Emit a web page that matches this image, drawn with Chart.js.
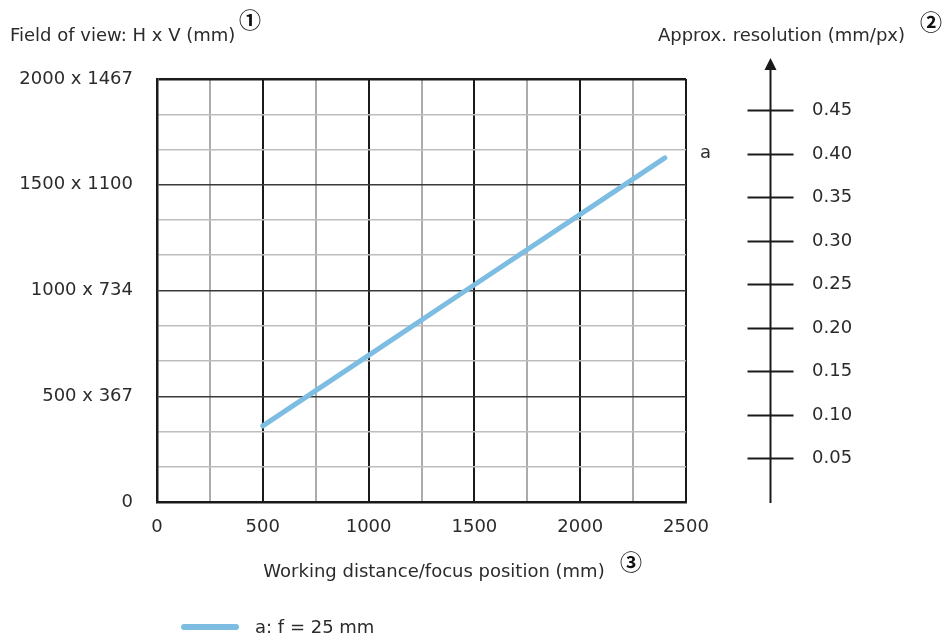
<!DOCTYPE html>
<html>
<head>
<meta charset="utf-8">
<script src="https://cdn.jsdelivr.net/npm/chart.js@4.4.1/dist/chart.umd.min.js"></script>
<style>
  body { margin: 0; background: #fff; }
  canvas { display: block; }
</style>
</head>
<body>
<canvas id="fovChart" width="946" height="637"></canvas>
<script>
// values
var distances = [500, 1000, 1500, 2000, 2400];
var fieldH = [360, 693, 1027, 1360, 1627];
var fovLabels = ['0', '500 x 367', '1000 x 734', '1500 x 1100', '2000 x 1467'];
var resTicks = [0.05, 0.10, 0.15, 0.20, 0.25, 0.30, 0.35, 0.40, 0.45];
var seriesName = 'a: f = 25 mm';
var seriesTag = 'a';

var FONT = '"DejaVu Sans", sans-serif';
var FS = 18;
var TXT = '#2b2b2b';
var LINE = '#7dbde2';

var extras = {
    id: 'extras',
    afterDraw: function(chart) {
        var ctx = chart.ctx;
        var area = chart.chartArea;
        var y2 = chart.scales.y2;
        ctx.save();
        ctx.fillStyle = TXT;
        ctx.font = FS + 'px ' + FONT;
        ctx.textBaseline = 'middle';

        // titles
        ctx.textAlign = 'left';
        ctx.fillText('Field of view: H x V (mm)', 10, 36);
        ctx.textAlign = 'right';
        ctx.fillText('Approx. resolution (mm/px)', 905, 36);
        ctx.textAlign = 'center';
        ctx.fillText('Working distance/focus position (mm)', 434, 572);

        ctx.fillStyle = '#111';
        ctx.font = 'bold 22px "Noto Sans CJK JP", "DejaVu Sans", sans-serif';
        ctx.fillText('\u2460', 250, 20);
        ctx.fillText('\u2461', 931, 22);
        ctx.fillText('\u2462', 631, 562);

        // series tag at the line end
        var meta = chart.getDatasetMeta(0);
        var last = meta.data[meta.data.length - 1];
        ctx.fillStyle = TXT;
        ctx.font = FS + 'px ' + FONT;
        ctx.textAlign = 'left';
        ctx.fillText(seriesTag, area.right + 14, last.y - 5);

        // resolution axis with arrow
        var ax = area.right + 84.5;
        ctx.strokeStyle = '#1a1a1a';
        ctx.lineWidth = 2;
        ctx.beginPath();
        ctx.moveTo(ax, y2.getPixelForValue(0) + 1);
        ctx.lineTo(ax, 68);
        ctx.stroke();
        ctx.fillStyle = '#1a1a1a';
        ctx.beginPath();
        ctx.moveTo(ax, 58);
        ctx.lineTo(ax - 6, 70);
        ctx.lineTo(ax + 6, 70);
        ctx.closePath();
        ctx.fill();
        resTicks.forEach(function(v) {
            var py = Math.round(y2.getPixelForValue(v)) + 0.5;
            ctx.beginPath();
            ctx.moveTo(ax - 23, py);
            ctx.lineTo(ax + 23, py);
            ctx.stroke();
        });

        // legend
        ctx.strokeStyle = LINE;
        ctx.lineWidth = 6;
        ctx.lineCap = 'round';
        ctx.beginPath();
        ctx.moveTo(184, 627);
        ctx.lineTo(236, 627);
        ctx.stroke();
        ctx.fillStyle = TXT;
        ctx.fillText(seriesName, 255, 628);
        ctx.restore();
    }
};

var chart = new Chart(document.getElementById('fovChart').getContext('2d'), {
    type: 'line',
    data: {
        datasets: [{
            label: seriesName,
            data: distances.map(function(d, i) { return { x: d, y: fieldH[i] }; }),
            borderColor: LINE,
            borderWidth: 5,
            borderCapStyle: 'round',
            pointRadius: 0,
            fill: false,
            tension: 0,
            yAxisID: 'y'
        }]
    },
    options: {
        responsive: false,
        animation: false,
        layout: { padding: { top: 79, left: 0, right: 0, bottom: 0 } },
        plugins: { legend: { display: false }, tooltip: { enabled: false } },
        scales: {
            x: {
                type: 'linear',
                min: 0,
                max: 2500,
                afterBuildTicks: function(scale) {
                    var t = [];
                    for (var v = 0; v <= 2500; v += 250) t.push({ value: v });
                    scale.ticks = t;
                },
                afterFit: function(scale) { scale.height = 135; },
                ticks: {
                    autoSkip: false,
                    maxRotation: 0,
                    padding: 15,
                    color: TXT,
                    font: { family: FONT, size: FS },
                    callback: function(v) { return v % 500 === 0 ? String(v) : ''; }
                },
                grid: {
                    drawTicks: false,
                    color: function(c) { return c.tick && c.tick.value % 500 === 0 ? '#1a1a1a' : '#acacac'; },
                    lineWidth: 2
                },
                border: { color: '#1a1a1a', width: 2.5 }
            },
            y: {
                type: 'linear',
                position: 'left',
                min: 0,
                max: 2000,
                afterBuildTicks: function(scale) {
                    var t = [];
                    for (var i = 0; i <= 12; i++) t.push({ value: i * 2000 / 12 });
                    scale.ticks = t;
                },
                afterFit: function(scale) { scale.width = 157; },
                ticks: {
                    autoSkip: false,
                    padding: 24,
                    color: TXT,
                    font: { family: FONT, size: FS },
                    callback: function(v, i) { return i % 3 === 0 ? fovLabels[i / 3] : ''; }
                },
                grid: {
                    drawTicks: false,
                    color: function(c) {
                        if (c.index === 12) return '#1a1a1a';
                        return c.index % 3 === 0 ? '#3a3a3a' : '#bdbdbd';
                    },
                    lineWidth: function(c) { return c.index === 12 ? 2.5 : 1.5; }
                },
                border: { color: '#1a1a1a', width: 2.5 }
            },
            y2: {
                type: 'linear',
                position: 'right',
                min: 0,
                max: 0.486,
                afterBuildTicks: function(scale) {
                    scale.ticks = resTicks.map(function(v) { return { value: v }; });
                },
                afterFit: function(scale) {
                    scale.width = 260;
                    scale.paddingTop = 10;
                    scale.paddingBottom = 10;
                },
                ticks: {
                    autoSkip: false,
                    padding: 126,
                    color: TXT,
                    font: { family: FONT, size: FS },
                    callback: function(v) { return v.toFixed(2); }
                },
                grid: { display: false, drawTicks: false },
                border: { display: false }
            }
        }
    },
    plugins: [extras]
});
</script>
</body>
</html>
